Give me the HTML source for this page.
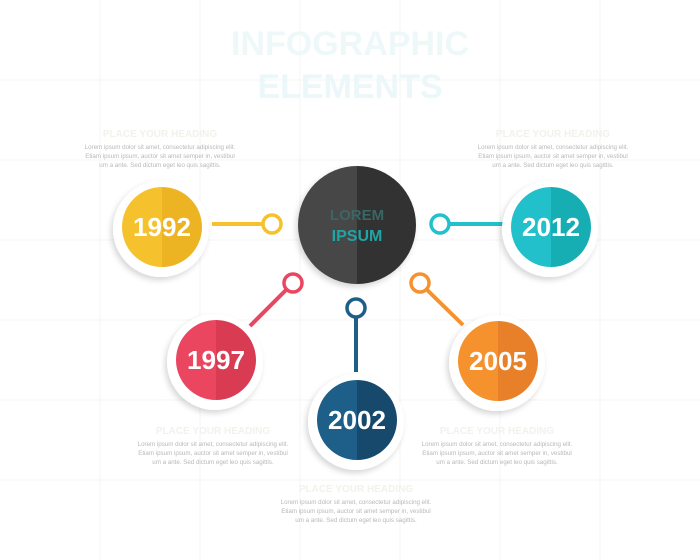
<!DOCTYPE html>
<html><head><meta charset="utf-8">
<style>
html,body{margin:0;padding:0;background:#fff;}
svg{display:block;font-family:"Liberation Sans",sans-serif;}
</style></head>
<body>
<svg id="s" width="700" height="559" viewBox="0 0 700 559">
<defs>
<filter id="sh" x="-30%" y="-30%" width="160%" height="160%"><feDropShadow dx="-2" dy="3" stdDeviation="3" flood-color="#000" flood-opacity="0.16"/></filter>
</defs>
<g id="grid"></g>
<text x="350" y="55" text-anchor="middle" font-size="34" font-weight="bold" fill="#eef8f9">INFOGRAPHIC</text>
<text x="350" y="98" text-anchor="middle" font-size="34" font-weight="bold" fill="#ebf7f9">ELEMENTS</text>
<g id="texts"></g>
<g id="links"></g>
<g id="nodes"></g>
<g filter="url(#sh)">
<path d="M357 166 A59 59 0 0 0 357 284 Z" fill="#474747"/>
<path d="M357 166 A59 59 0 0 1 357 284 Z" fill="#333"/>
</g>
<text x="357" y="220" text-anchor="middle" font-size="15" font-weight="bold" fill="#3a6666">LOREM</text>
<text x="357" y="241" text-anchor="middle" font-size="16" font-weight="bold" fill="#1fa5a5">IPSUM</text>
</svg>
<script>
const years=["1992","1997","2002","2005","2012"];
const colorsL=["#f5c22e","#ea4660","#1d5f88","#f6922e","#22c0ca"];
const colorsR=["#ecb423","#d93b53","#17496c","#e8802a","#16adb3"];
const nodeX=[162,216,357,498,551];
const nodeY=[227,360,420,361,227];
const ringX=[272,293,356,420,440];
const ringY=[224,283,308,283,224];
const lineEndX=[212,250,356,463,505];
const lineEndY=[224,326,372,325,224];
const textX=[160,213,356,497,553];
const textY=[133,430,488,430,133];
const NS="http://www.w3.org/2000/svg";
function mk(t,a,p){const e=document.createElementNS(NS,t);for(const k in a)e.setAttribute(k,a[k]);p.appendChild(e);return e;}
const grid=document.getElementById('grid');
for(let i=1;i<7;i++){mk('line',{x1:i*100,y1:0,x2:i*100,y2:559,stroke:'#f4f4f4','stroke-width':1},grid);}
for(let j=1;j<7;j++){mk('line',{x1:0,y1:j*80,x2:700,y2:j*80,stroke:'#f4f4f4','stroke-width':1},grid);}
const links=document.getElementById('links'),nodes=document.getElementById('nodes'),texts=document.getElementById('texts');
const body=["Lorem ipsum dolor sit amet, consectetur adipiscing elit.","Etiam ipsum ipsum, auctor sit amet semper in, vestibul","um a ante. Sed dictum eget leo quis sagittis."];
years.forEach((y,i)=>{
  const ln=mk('line',{x1:ringX[i],y1:ringY[i],x2:lineEndX[i],y2:lineEndY[i],stroke:colorsL[i],'stroke-width':4},links);
  
  
  const rg=mk('circle',{cx:ringX[i],cy:ringY[i],r:9,fill:'#fff',stroke:colorsL[i],'stroke-width':3.5},links);
  
  
  const g=mk('g',{},nodes);
  
  
  mk('circle',{cx:nodeX[i]-1,cy:nodeY[i]+2,r:48,fill:'#fff',filter:'url(#sh)'},g);
  const cx=nodeX[i],cy=nodeY[i],r=40;
  mk('path',{d:`M${cx} ${cy-r} A${r} ${r} 0 0 0 ${cx} ${cy+r} Z`,fill:colorsL[i]},g);
  mk('path',{d:`M${cx} ${cy-r} A${r} ${r} 0 0 1 ${cx} ${cy+r} Z`,fill:colorsR[i]},g);
  const t=mk('text',{x:cx,y:cy+9,'text-anchor':'middle','font-size':26,'font-weight':'bold',fill:'#fff',textLength:58,lengthAdjust:'spacingAndGlyphs'},g);
  t.textContent=y;
  
  
  const tb=mk('g',{},texts);
  
  
  const h=mk('text',{x:textX[i],y:textY[i]+4,'text-anchor':'middle','font-size':10,'font-weight':'bold',fill:'#f3f1ec'},tb);
  h.textContent="PLACE YOUR HEADING";
  body.forEach((l,k)=>{const tt=mk('text',{x:textX[i],y:textY[i]+16+k*9,'text-anchor':'middle','font-size':6.2,fill:'#b8b8b8'},tb);tt.textContent=l;});
});
</script>
</body></html>
